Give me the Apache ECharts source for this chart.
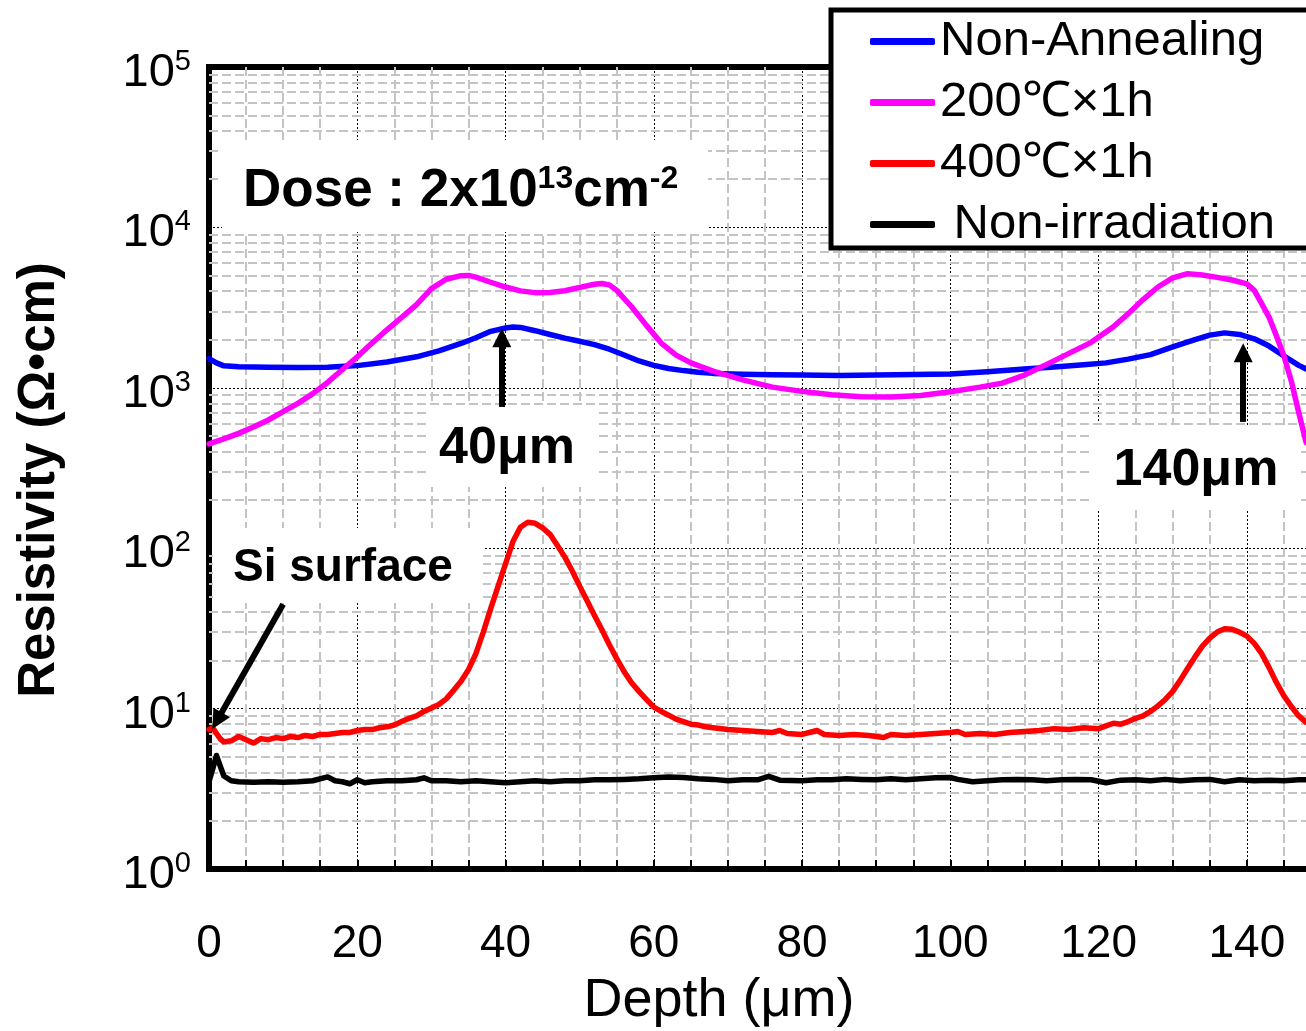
<!DOCTYPE html>
<html><head><meta charset="utf-8">
<script src="https://cdn.jsdelivr.net/npm/echarts@6/dist/echarts.min.js"></script>
<style>html,body{margin:0;padding:0;background:#fff}#c{width:1306px;height:1031px}</style>
</head><body><div id="c"></div>
<script>
// ---- data (depth in µm, resistivity in Ω·cm) ----
const seriesNames = ['Non-Annealing', '200℃×1h', '400℃×1h', 'Non-irradiation'];

const depthNA = [0,1,2,4,8,12,16,20,24,28,31,34,36,38,40,41,42,44,46,48,50,52,54,56,58,60,62,64,66,68,72,76,80,85,90,95,100,105,110,114,118,121,124,127,130,133,135,137,139,141,143,145,147,148];
const resNA   = [1520,1430,1370,1355,1345,1340,1345,1375,1450,1560,1700,1890,2050,2250,2360,2390,2380,2270,2150,2040,1950,1860,1740,1600,1470,1380,1320,1280,1250,1230,1215,1205,1200,1195,1200,1210,1220,1260,1310,1350,1390,1430,1510,1610,1800,2000,2130,2200,2150,2020,1820,1580,1380,1310];

const depth200 = [0,2,4,6,8,10,12,14,16,18,20,22,24,26,28,30,32,34,35,36,38,40,42,44,46,48,50,52,53,54,55,57,59,61,63,65,68,72,76,80,84,88,92,96,100,104,107,110,113,116,119,122,124,126,128,130,132,134,136,138,140,141,142,143,144,145,146,147,148];
const res200   = [447,480,520,570,630,710,800,920,1080,1300,1560,1900,2300,2750,3300,4150,4750,5000,5020,4900,4550,4250,4020,3920,3930,4030,4230,4420,4470,4380,4050,3200,2450,1900,1600,1430,1270,1120,1010,950,905,880,875,895,945,1010,1070,1200,1400,1640,1920,2400,2900,3550,4250,4850,5150,5050,4880,4700,4450,4050,3350,2750,2100,1580,1100,700,455];

const depth400 = [0,0.5,1,1.5,2,3,4,5,6,7,8,9,10,11,12,13,14,15,16,17,18,19,20,21,22,23,24,25,26,27,28,29,30,31,32,33,34,35,36,37,38,39,40,41,42,43,44,45,46,47,48,49,50,51,52,53,54,55,56,57,58,59,60,61,62,63,64,65,66,67,68,70,72,74,76,77,78,80,82,83,85,87,89,91,92,94,96,98,100,101,102,104,106,108,110,112,114,116,118,120,121,122,123,124,125,126,127,128,129,130,131,132,133,134,135,136,137,138,139,140,141,142,143,144,145,146,147,148];
const res400   = [7.4,7.6,7.0,6.5,6.2,6.3,6.7,6.4,6.1,6.5,6.4,6.6,6.5,6.7,6.6,6.8,6.7,6.9,6.9,7.0,7.1,7.1,7.3,7.4,7.4,7.6,7.7,7.9,8.3,8.7,9.0,9.6,10.1,10.6,11.5,13.0,14.8,17.5,22,30,42,58,80,110,135,145,143,134,122,104,88,72,58,47,38,31,25,20.5,17,14.5,12.8,11.4,10.2,9.6,9.1,8.6,8.3,8.0,7.9,7.7,7.6,7.4,7.3,7.2,7.1,7.3,7.0,6.9,7.3,6.9,6.8,6.9,6.8,6.6,6.9,6.8,6.9,7.0,7.1,7.2,6.9,7.0,6.9,7.1,7.2,7.3,7.5,7.4,7.6,7.5,7.8,8.1,8.0,8.3,8.7,9.0,9.6,10.4,11.4,12.8,15,17.8,21,24.5,27.5,30,31.5,31.2,30,28.3,25.5,22,18,14.5,12,10.3,9.0,8.2];

const depthNI = [0,0.5,1,1.5,2,3,4,6,8,10,12,14,16,17,18,19,20,21,22,24,26,28,29,30,32,34,36,38,40,42,44,46,48,50,52,54,56,58,60,62,64,66,68,70,72,74,75.5,77,80,82,84,86,88,90,92,94,96,98,100,101,103,105,107,109,111,113,115,117,119,121,123,125,127,129,131,133,135,137,139,141,143,145,147,148];
const resNI   = [3.5,4.2,5.1,4.4,3.8,3.55,3.5,3.48,3.5,3.47,3.5,3.55,3.75,3.55,3.5,3.4,3.6,3.45,3.5,3.55,3.55,3.6,3.7,3.55,3.55,3.5,3.55,3.5,3.45,3.5,3.55,3.5,3.55,3.55,3.6,3.6,3.62,3.65,3.7,3.75,3.72,3.65,3.62,3.55,3.6,3.6,3.78,3.58,3.55,3.6,3.6,3.65,3.62,3.6,3.65,3.6,3.65,3.7,3.72,3.62,3.5,3.55,3.6,3.62,3.6,3.55,3.6,3.62,3.6,3.45,3.58,3.6,3.55,3.62,3.55,3.6,3.62,3.5,3.6,3.55,3.58,3.55,3.6,3.6];

// annotation arrows (data coordinates: [depth, resistivity])
const arrow40  = [[39.5, 760], [39.5, 2054]];
const arrow140 = [[139.5, 613], [139.5, 1655]];
const arrowSi  = [[10, 44.7], [1.08, 8.4]];

const xMin = 0, xMax = 150, xStep = 20;
const yDecades = [1, 10, 100, 1000, 10000];
const yMinorMultipliers = [2,3,4,5,6,7,8,9];

const FONT = '"Liberation Sans", Arial, sans-serif';
const zip = (xs, ys) => xs.map((x, i) => [x, ys[i]]);
const minorY = [];
yDecades.forEach(d => yMinorMultipliers.forEach(m => minorY.push({yAxis: d * m})));

const chart = echarts.init(document.getElementById('c'), null, {renderer: 'canvas'});

function lineSeries(name, data, color) {
  return {name, type: 'line', data, showSymbol: false, symbol: 'none', z: 3,
    lineStyle: {color, width: 5.5, join: 'round', cap: 'round'}, itemStyle: {color},
    silent: true, animation: false};
}
function arrowLine(a) {
  return [{coord: a[0], symbol: 'none'}, {coord: a[1], symbol: 'triangle'}];
}

chart.setOption({
  animation: false,
  backgroundColor: '#fff',
  grid: {left: 209, top: 67, width: 1112, height: 802, show: true, outerBoundsMode: 'none', containLabel: false,
    borderColor: '#000', borderWidth: 6, backgroundColor: 'transparent'},
  xAxis: {
    type: 'value', min: xMin, max: xMax, interval: xStep, z: 0,
    axisLine: {show: false},
    axisTick: {show: true, inside: true, length: 9, lineStyle: {color: '#000', width: 2}},
    minorTick: {show: true, splitNumber: 4, length: 9, lineStyle: {color: '#000', width: 2}},
    splitLine: {show: true, lineStyle: {color: '#000', width: 1, type: [2, 2]}},
    minorSplitLine: {show: true, lineStyle: {color: '#c4c4c4', width: 2, type: [9, 4]}},
    axisLabel: {fontFamily: FONT, fontSize: 46, color: '#000', margin: 52,
      formatter: v => (v % xStep === 0 && v <= 140) ? String(v) : ''}
  },
  yAxis: {
    type: 'log', logBase: 10, min: 1, max: 100000, z: 0,
    axisLine: {show: false}, axisTick: {show: false},
    splitLine: {show: true, lineStyle: {color: '#000', width: 1, type: [2, 2]}},
    axisLabel: {margin: 18, color: '#000', padding: [12, 0, 0, 0],
      formatter: v => '{b|10}{s|' + Math.round(Math.log10(v)) + '}',
      rich: {b: {fontFamily: FONT, fontSize: 47, color: '#000'},
             s: {fontFamily: FONT, fontSize: 29, color: '#000', verticalAlign: 'top', padding: [0,0,22,0]}}}
  },
  legend: {
    data: seriesNames, orient: 'vertical', left: 870, top: 16, padding: 0,
    itemWidth: 65, itemHeight: 7, itemGap: 10, icon: 'roundRect', z: 20,
    formatter: n => n === 'Non-irradiation' ? ' ' + n : n,
    textStyle: {fontFamily: FONT, fontSize: 49, lineHeight: 51, color: '#000'},
    selectedMode: false
  },
  graphic: [
    {type: 'rect', z: 2, silent: true, shape: {x: 222, y: 140, width: 486, height: 92}, style: {fill: '#fff'}},
    {type: 'rect', z: 2, silent: true, shape: {x: 430, y: 405, width: 167, height: 82}, style: {fill: '#fff'}},
    {type: 'rect', z: 2, silent: true, shape: {x: 1093, y: 425, width: 208, height: 85}, style: {fill: '#fff'}},
    {type: 'rect', z: 2, silent: true, shape: {x: 213, y: 528, width: 270, height: 75}, style: {fill: '#fff'}},
    {type: 'rect', z: 10, silent: true, shape: {x: 831, y: 10, width: 540, height: 238},
      style: {fill: '#fff', stroke: '#000', lineWidth: 5}},
    {type: 'text', z: 5, silent: true, x: 243, y: 191, style: {
      text: '{a|Dose : 2x10}{s|13}{a|cm}{s|-2}', verticalAlign: 'middle', align: 'left',
      rich: {a: {fontFamily: FONT, fontSize: 53, fontWeight: 'bold', fill: '#000'},
             s: {fontFamily: FONT, fontSize: 32, fontWeight: 'bold', fill: '#000', verticalAlign: 'top', padding: [0,0,24,0]}}}},
    {type: 'text', z: 5, silent: true, x: 507, y: 449, style: {text: '40μm', align: 'center', verticalAlign: 'middle',
      font: 'bold 52px ' + FONT, fill: '#000'}},
    {type: 'text', z: 5, silent: true, x: 1196, y: 471, style: {text: '140μm', align: 'center', verticalAlign: 'middle',
      font: 'bold 52px ' + FONT, fill: '#000'}},
    {type: 'text', z: 5, silent: true, x: 233, y: 568, style: {text: 'Si surface', align: 'left', verticalAlign: 'middle',
      font: 'bold 46px ' + FONT, fill: '#000'}},
    {type: 'text', z: 5, silent: true, x: 719, y: 1001, style: {text: 'Depth (μm)', align: 'center', verticalAlign: 'middle',
      font: '54px ' + FONT, fill: '#000'}},
    {type: 'text', z: 5, silent: true, x: 40, y: 480, rotation: Math.PI / 2, style: {text: 'Resistivity (Ω•cm)',
      align: 'center', verticalAlign: 'middle', font: 'bold 51px ' + FONT, fill: '#000'}}
  ],
  series: [
    {name: 'minorGrid', type: 'line', data: [], z: 1, silent: true,
      markLine: {z: 1, silent: true, symbol: 'none', animation: false, label: {show: false},
        lineStyle: {color: '#c4c4c4', width: 2, type: [9, 4]}, emphasis: {disabled: true}, data: minorY}},
    lineSeries(seriesNames[0], zip(depthNA, resNA), '#0000FF'),
    lineSeries(seriesNames[1], zip(depth200, res200), '#FF00FF'),
    lineSeries(seriesNames[2], zip(depth400, res400), '#FF0000'),
    lineSeries(seriesNames[3], zip(depthNI, resNI), '#000000'),
    {name: 'arrows', type: 'line', data: [], z: 6, silent: true,
      markLine: {z: 6, silent: true, animation: false, symbolSize: 19, label: {show: false},
        lineStyle: {color: '#000', width: 6, type: 'solid'}, itemStyle: {color: '#000'}, emphasis: {disabled: true},
        data: [arrowLine(arrow40), arrowLine(arrow140), arrowLine(arrowSi)]}}
  ]
});
</script></body></html>
